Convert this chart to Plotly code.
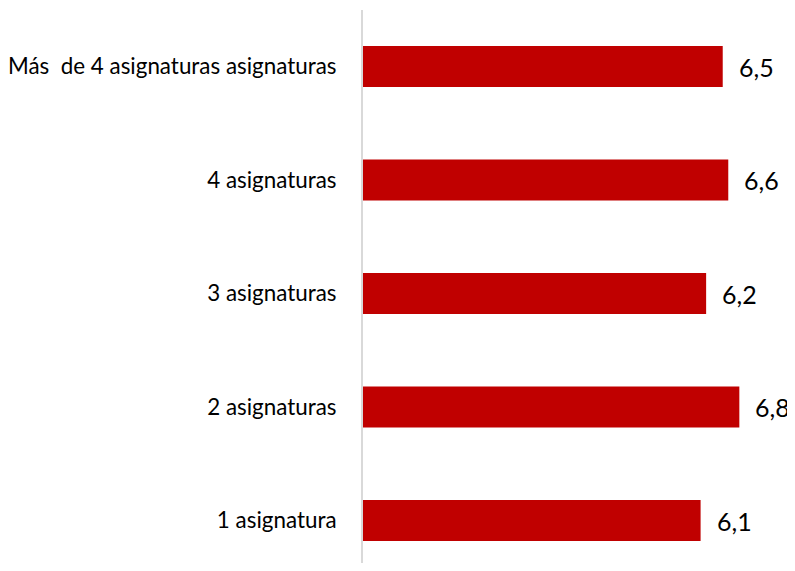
import plotly.graph_objects as go

categories = ["1 asignatura", "2 asignaturas", "3 asignaturas", "4 asignaturas",
              "Más  de 4 asignaturas asignaturas"]
values = [6.1, 6.8, 6.2, 6.6, 6.5]
value_labels = ["6,1", "6,8", "6,2", "6,6", "6,5"]

# the page body has an 8px default margin; the figure is drawn from (8, 8).
OFF = 8
W, H = 795 - OFF, 571 - 2 * OFF
ML = 361 - OFF
PX_PER_CAT = 113.5
FONT = "Lato"

fig = go.Figure(go.Bar(
    x=values, y=categories, orientation="h",
    marker=dict(color="#C00000", line=dict(width=0)),
    hoverinfo="skip",
))

for v, c, t in zip(values, categories, value_labels):
    fig.add_annotation(x=v, y=c, text=t, showarrow=False, xanchor="left",
                       xshift=14, font=dict(family=FONT, size=25, color="#000000"))

fig.update_layout(
    width=W, height=H,
    margin=dict(l=ML, r=0, t=10 - OFF, b=0),
    paper_bgcolor="white", plot_bgcolor="white",
    bargap=0.64,
    showlegend=False,
    font=dict(family=FONT, color="#000000"),
    xaxis=dict(range=[0, (W - ML) / 55.6], visible=False, showgrid=False, zeroline=False),
    yaxis=dict(range=[-(OFF + H - 520.5) / PX_PER_CAT, 4 + (66.5 - 10) / PX_PER_CAT],
               showgrid=False, zeroline=False,
               showline=True, linecolor="#D9D9D9", linewidth=2,
               ticks="", ticklabelstandoff=20,
               tickfont=dict(family=FONT, size=22.4, color="#000000")),
)

fig.write_html("out.html")
